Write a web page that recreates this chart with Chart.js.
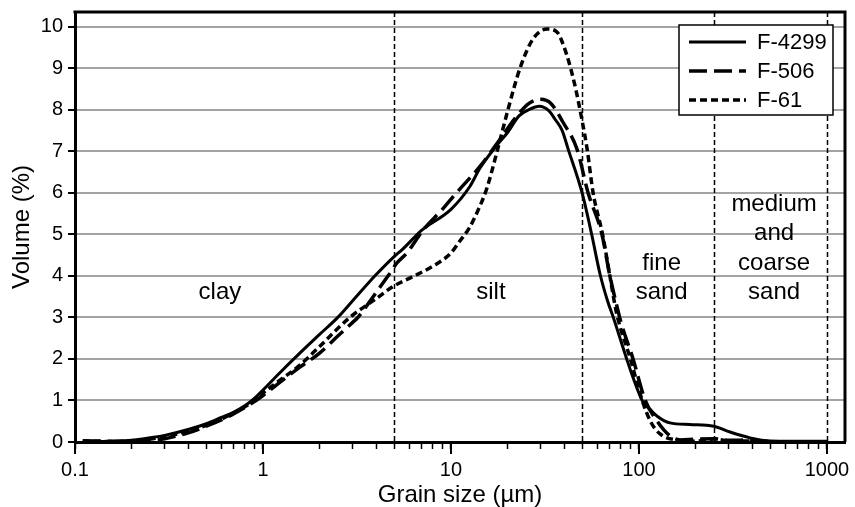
<!DOCTYPE html>
<html><head><meta charset="utf-8">
<script src="https://cdn.jsdelivr.net/npm/chart.js@4/dist/chart.umd.min.js"></script>
<style>html,body{margin:0;padding:0;background:#fff}</style>
</head><body>
<canvas id="c" width="855" height="507"></canvas>
<script>
// ---- data ----
const seriesNames = ['F-4299', 'F-506', 'F-61'];

const size4299 = [0.11,0.15,0.2,0.25,0.3,0.4,0.5,0.6,0.7,0.8,0.9,1,1.2,1.57,2,2.5,3,4,5,5.5,7,10,12.6,14.3,17.6,20,23,26,29.5,33,36,39,42,49.8,56,62,68,73,86,93,104,115,125,146,186,250,305,390,480,600,1000];
const vol4299  = [0.02,0.01,0.04,0.1,0.16,0.3,0.44,0.59,0.72,0.87,1.05,1.25,1.62,2.14,2.59,3.0,3.4,4.03,4.47,4.63,5.1,5.6,6.15,6.6,7.15,7.45,7.85,8.0,8.08,7.98,7.75,7.5,7.05,6.0,5.0,4.05,3.4,3.0,2.0,1.55,1.0,0.78,0.62,0.46,0.42,0.38,0.24,0.1,0.03,0.02,0.02];

const size506 = [0.11,0.15,0.2,0.25,0.3,0.4,0.5,0.6,0.7,0.85,1,1.2,1.57,2,2.5,3,3.2,4,4.63,5.16,5.83,7.1,9,10.7,14.3,18.2,22,26,30,34,39.5,46.8,53.6,63.5,70,76,80,93,108,125,146,165,200,250,300,400,500,1000];
const vol506  = [0.03,0.02,0.02,0.04,0.08,0.22,0.38,0.53,0.68,0.9,1.12,1.4,1.8,2.14,2.55,2.88,3.0,3.6,4.0,4.31,4.55,5.1,5.6,6.0,6.64,7.28,7.8,8.15,8.25,8.15,7.69,7.05,6.0,5.0,4.0,3.3,2.9,2.0,1.0,0.5,0.15,0.05,0.07,0.08,0.04,0.05,0.01,0.0];

const size61 = [0.11,0.15,0.2,0.25,0.3,0.4,0.5,0.6,0.7,0.85,1,1.2,1.57,2,2.9,4,4.9,6.4,8,10,11.2,12.5,14,15.5,17.6,20.1,23.3,27.3,32.5,36.6,40,45,50,53,57,64,70,76,90,104,115,129,158,200,250,300,400,500,1000];
const vol61  = [0.02,0.01,0.03,0.07,0.13,0.26,0.4,0.55,0.7,0.92,1.18,1.45,1.85,2.3,3.0,3.45,3.74,4.0,4.23,4.55,4.85,5.15,5.6,6.1,7.0,8.0,9.0,9.7,9.94,9.87,9.5,8.7,7.7,7.05,6.0,5.0,4.0,3.1,2.0,1.0,0.5,0.2,0.05,0.02,0.07,0.03,0.02,0.0,0.0];

const xTickValues = [0.1, 1, 10, 100, 1000];
const yTickValues = [0,1,2,3,4,5,6,7,8,9,10];
const classBoundaries = [5, 50, 250, 1000];
const classNames = [['clay'], ['silt'], ['fine', 'sand'], ['medium', 'and', 'coarse', 'sand']];
const classNameAnchorX = [0.59, 16.3, 132, 523];   // µm, centre of the text
const classNameAnchorY = 3.6;                        // volume %, last text line

// ---- styles ----
const FONT = '"Liberation Sans", Arial, Helvetica, sans-serif';
const lineStyles = [
  {borderWidth: 3, borderDash: []},
  {borderWidth: 3.5, borderDash: [18, 7]},
  {borderWidth: 3.5, borderDash: [7, 4]}
];
const sizes = [size4299, size506, size61];
const vols = [vol4299, vol506, vol61];

const isMajor = v => Math.abs(Math.log10(v) - Math.round(Math.log10(v))) < 1e-9;

const framePlugin = {
  id: 'frame',
  beforeDatasetsDraw(chart) {
    const {ctx, chartArea: a, scales: {x}} = chart;
    ctx.save();
    ctx.strokeStyle = '#000';
    ctx.lineWidth = 1.5;
    ctx.setLineDash([5, 3]);
    classBoundaries.forEach(b => {
      const px = Math.round(x.getPixelForValue(b)) + 0.5;
      ctx.beginPath(); ctx.moveTo(px, a.top); ctx.lineTo(px, a.bottom); ctx.stroke();
    });
    ctx.setLineDash([]);
    // longer major ticks on the x axis
    ctx.lineWidth = 2;
    xTickValues.forEach(v => {
      const px = Math.round(x.getPixelForValue(v));
      ctx.beginPath(); ctx.moveTo(px, a.bottom); ctx.lineTo(px, a.bottom + 12); ctx.stroke();
    });
    ctx.restore();
  },
  afterDraw(chart) {
    const {ctx, chartArea: a, scales: {x, y}} = chart;
    ctx.save();
    // frame top and right
    ctx.strokeStyle = '#000';
    ctx.lineWidth = 3;
    ctx.beginPath(); ctx.moveTo(a.left - 1.5, a.top); ctx.lineTo(a.right, a.top); ctx.lineTo(a.right, a.bottom); ctx.stroke();
    // class labels
    ctx.fillStyle = '#000';
    ctx.font = '24px ' + FONT;
    ctx.textAlign = 'center';
    ctx.textBaseline = 'middle';
    const yBase = y.getPixelForValue(classNameAnchorY);
    classNames.forEach((lines, i) => {
      const px = x.getPixelForValue(classNameAnchorX[i]);
      lines.forEach((t, j) => {
        ctx.fillText(t, px, yBase - (lines.length - 1 - j) * 29.5);
      });
    });
    // legend
    const L = 679, T = 25, R = 833, B = 115;
    ctx.fillStyle = '#fff';
    ctx.fillRect(L, T, R - L, B - T);
    ctx.lineWidth = 1.5;
    ctx.strokeRect(L, T, R - L, B - T);
    ctx.font = '22px ' + FONT;
    ctx.textAlign = 'left';
    const rows = [42, 71, 100];
    chart.data.datasets.forEach((ds, i) => {
      ctx.strokeStyle = '#000';
      ctx.lineWidth = ds.borderWidth;
      ctx.setLineDash(ds.borderDash || []);
      ctx.beginPath(); ctx.moveTo(689, rows[i]); ctx.lineTo(746, rows[i]); ctx.stroke();
      ctx.setLineDash([]);
      ctx.fillStyle = '#000';
      ctx.fillText(ds.label, 757, rows[i] + 1);
    });
    ctx.restore();
  }
};

new Chart(document.getElementById('c'), {
  type: 'line',
  data: {
    datasets: seriesNames.map((name, i) => ({
      label: name,
      data: sizes[i].map((s, k) => ({x: s, y: vols[i][k]})),
      borderColor: '#000',
      backgroundColor: '#000',
      borderWidth: lineStyles[i].borderWidth,
      borderDash: lineStyles[i].borderDash,
      pointRadius: 0,
      fill: false,
      cubicInterpolationMode: 'monotone',
      clip: false
    }))
  },
  options: {
    responsive: false,
    devicePixelRatio: 1,
    animation: false,
    layout: {padding: {left: 0, top: 12, right: 10, bottom: 0}},
    plugins: {legend: {display: false}, tooltip: {enabled: false}},
    scales: {
      x: {
        type: 'logarithmic',
        min: 0.1,
        max: 1247,
        afterBuildTicks(scale) {
          const t = [];
          for (let d = 0; d < xTickValues.length - 1; d++) {
            for (let m = 1; m <= 9; m++) t.push({value: xTickValues[d] * m, major: m === 1});
          }
          t.push({value: xTickValues[xTickValues.length - 1], major: true});
          scale.ticks = t;
        },
        afterFit(scale) { scale.height = 65; scale.paddingLeft = 0; scale.paddingRight = 0; },
        ticks: {
          autoSkip: false, maxRotation: 0, minRotation: 0, padding: 9,
          color: '#000', font: {family: FONT, size: 20},
          callback: (v) => isMajor(v) ? String(v) : ''
        },
        grid: {drawOnChartArea: false, drawTicks: true, tickLength: 7, tickColor: '#000', tickWidth: 1.5},
        border: {display: true, color: '#000', width: 3},
        title: {display: true, text: 'Grain size (µm)', color: '#000', font: {family: FONT, size: 24, lineHeight: 1}, padding: {top: 0, bottom: 0}}
      },
      y: {
        type: 'linear',
        min: 0,
        max: 10.35,
        afterBuildTicks(scale) { scale.ticks = yTickValues.map(v => ({value: v})); },
        afterFit(scale) { scale.width = 75; scale.paddingTop = 0; scale.paddingBottom = 0; },
        ticks: {padding: 5, color: '#000', font: {family: FONT, size: 20}},
        grid: {color: '#a3a3a3', lineWidth: 2, tickColor: '#000', tickWidth: 2, tickLength: 7},
        border: {display: true, color: '#000', width: 3},
        title: {display: true, text: 'Volume (%)', color: '#000', font: {family: FONT, size: 24, lineHeight: 1}, padding: {top: 10, bottom: 0}}
      }
    }
  },
  plugins: [framePlugin]
});
</script>
</body></html>
